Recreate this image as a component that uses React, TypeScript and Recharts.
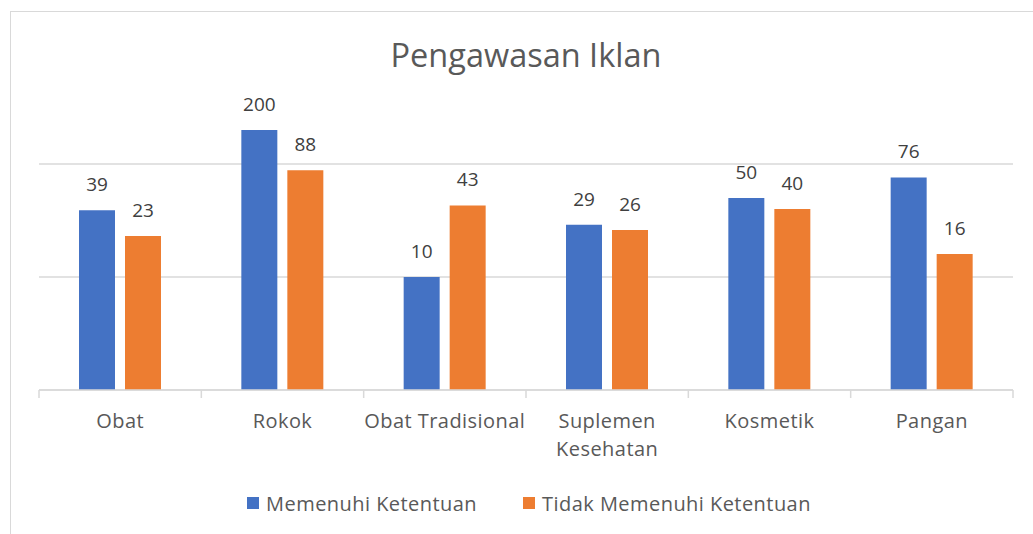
import React from 'react';
import { BarChart, Bar, XAxis, YAxis, CartesianGrid, LabelList } from 'recharts';

const categories = ['Obat', 'Rokok', 'Obat Tradisional', 'Suplemen Kesehatan', 'Kosmetik', 'Pangan'];
const memenuhi = [39, 200, 10, 29, 50, 76];
const tidakMemenuhi = [23, 88, 43, 26, 40, 16];
const seriesNames = ['Memenuhi Ketentuan', 'Tidak Memenuhi Ketentuan'];
const seriesColors = ['#4472C4', '#ED7D31'];
const gridTicks = [1, 10, 100];
const title = 'Pengawasan Iklan';

const data = categories.map((c, i) => ({ name: c, a: memenuhi[i], b: tidakMemenuhi[i] }));

const W = 1033;
const H = 534;
const X_AXIS_H = 30;
const M = { top: 51, right: 20, bottom: 144 - X_AXIS_H, left: 39 };
const plotW = W - M.left - M.right;
const band = plotW / categories.length;
const FONT = '"Open Sans", Lato, sans-serif';
const GRID = '#d9d9d9';
const LABEL_SIZE = 20;
const LETTER = 0.45;

function wrapWords(text: string, maxW: number): string[] {
  let ctx: CanvasRenderingContext2D | null = null;
  try {
    ctx = document.createElement('canvas').getContext('2d');
  } catch (e) {
    ctx = null;
  }
  const measure = (s: string) => {
    if (!ctx) return s.length * LABEL_SIZE * 0.55;
    ctx.font = `${LABEL_SIZE}px "Open Sans"`;
    return ctx.measureText(s).width + s.length * LETTER;
  };
  const words = text.split(' ');
  const lines: string[] = [];
  let cur = '';
  words.forEach((w) => {
    const cand = cur ? cur + ' ' + w : w;
    if (cur && measure(cand) > maxW) {
      lines.push(cur);
      cur = w;
    } else {
      cur = cand;
    }
  });
  if (cur) lines.push(cur);
  return lines;
}

function CatTick(props: any) {
  const { x, y, payload, index } = props;
  const isLast = index === categories.length - 1;
  const lines = wrapWords(String(payload.value), band + 4);
  return (
    <g>
      <line x1={x - band / 2} x2={x - band / 2} y1={y} y2={y + 8} stroke={GRID} strokeWidth={1.5} />
      {isLast && <line x1={x + band / 2} x2={x + band / 2} y1={y} y2={y + 8} stroke={GRID} strokeWidth={1.5} />}
      <text
        x={x}
        y={y + 38}
        textAnchor="middle"
        fill="#595959"
        fontSize={LABEL_SIZE}
        fontFamily={FONT}
        letterSpacing={LETTER}
      >
        {lines.map((l, i) => (
          <tspan key={i} x={x} dy={i === 0 ? 0 : 28}>
            {l}
          </tspan>
        ))}
      </text>
    </g>
  );
}

export default function App() {
  return (
    <div style={{ position: 'absolute', left: 0, top: 0, width: W, height: H, overflow: 'hidden', background: '#fff', fontFamily: FONT }}>
      <div style={{ position: 'absolute', left: 10, top: 11, width: 1100, height: 600, border: `1px solid ${GRID}`, boxSizing: 'border-box' }} />
      <div style={{ position: 'absolute', left: M.left, width: plotW, top: 35, lineHeight: '40px', textAlign: 'center', fontSize: 32.5, color: '#595959' }}>
        {title}
      </div>
      <div style={{ position: 'absolute', left: 0, top: 0 }}>
        <BarChart width={W} height={H} data={data} margin={M} barSize={36} barGap={10}>
          <CartesianGrid vertical={false} stroke={GRID} strokeWidth={1.5} horizontalValues={gridTicks} />
          <YAxis hide type="number" scale="log" domain={[1, 1000]} ticks={gridTicks} allowDataOverflow />
          <XAxis
            dataKey="name"
            height={X_AXIS_H}
            axisLine={{ stroke: GRID, strokeWidth: 1.5 }}
            tickLine={false}
            tickSize={0}
            tickMargin={0}
            interval={0}
            tick={<CatTick />}
          />
          <Bar dataKey="a" name={seriesNames[0]} fill={seriesColors[0]} isAnimationActive={false}>
            <LabelList dataKey="a" position="top" offset={19} fill="#404040" fontSize={19} fontFamily={FONT} />
          </Bar>
          <Bar dataKey="b" name={seriesNames[1]} fill={seriesColors[1]} isAnimationActive={false}>
            <LabelList dataKey="b" position="top" offset={19} fill="#404040" fontSize={19} fontFamily={FONT} />
          </Bar>
        </BarChart>
      </div>
      <div style={{ position: 'absolute', left: M.left + 3, width: plotW, top: 488, height: 30, display: 'flex', justifyContent: 'center', alignItems: 'center', gap: 46, fontSize: LABEL_SIZE, letterSpacing: LETTER, color: '#595959' }}>
        {seriesNames.map((n, i) => (
          <div key={n} style={{ display: 'flex', alignItems: 'center', gap: 7 }}>
            <div style={{ width: 12, height: 12, background: seriesColors[i] }} />
            <span>{n}</span>
          </div>
        ))}
      </div>
    </div>
  );
}
